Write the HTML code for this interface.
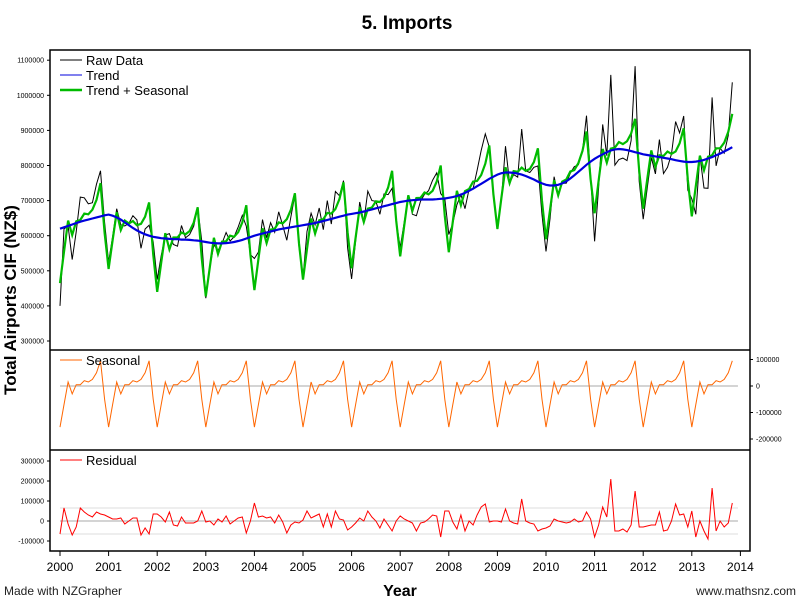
<!DOCTYPE html>
<html><head><meta charset="utf-8"><style>
body{margin:0;background:#fff;}
svg text{font-family:"Liberation Sans",sans-serif;}
</style></head><body>
<svg id="c" width="800" height="600" xmlns="http://www.w3.org/2000/svg">
<rect width="800" height="600" fill="#fff"/>
<text x="407" y="29" font-size="19" font-weight="bold" text-anchor="middle">5. Imports</text>
<text transform="translate(16,300) rotate(-90)" font-size="17" font-weight="bold" text-anchor="middle">Total Airports CIF (NZ$)</text>
<text x="400" y="596" font-size="16" font-weight="bold" text-anchor="middle">Year</text>
<text x="4" y="595" font-size="12" fill="#222">Made with NZGrapher</text>
<text x="796" y="595" font-size="12" fill="#222" text-anchor="end">www.mathsnz.com</text>
<g id="grid"></g>
<g id="marks"></g>
<rect x="50" y="50" width="700" height="501" fill="none" stroke="#000" stroke-width="1.5"/>
<line x1="50" y1="350" x2="750" y2="350" stroke="#000" stroke-width="1.5"/>
<line x1="50" y1="450" x2="750" y2="450" stroke="#000" stroke-width="1.5"/>
<g id="axes"></g>
<g>
<line x1="60" y1="60" x2="82" y2="60" stroke="#000"/><text x="86" y="65" font-size="13">Raw Data</text>
<line x1="60" y1="75" x2="82" y2="75" stroke="#0000dd"/><text x="86" y="80" font-size="13">Trend</text>
<line x1="60" y1="90" x2="82" y2="90" stroke="#00bb00" stroke-width="2.5"/><text x="86" y="95" font-size="13">Trend + Seasonal</text>
</g>
<g>
<line x1="60" y1="360" x2="82" y2="360" stroke="#ff6600"/><text x="86" y="365" font-size="13">Seasonal</text>
</g>
<g>
<line x1="60" y1="460" x2="82" y2="460" stroke="#ff0000"/><text x="86" y="465" font-size="13">Residual</text>
</g>
</svg>
<script>
const years=[2000,2001,2002,2003,2004,2005,2006,2007,2008,2009,2010,2011,2012,2013,2014];
const mainTicks=[300000,400000,500000,600000,700000,800000,900000,1000000,1100000];
const seasTicks=[100000,0,-100000,-200000];
const resTicks=[300000,200000,100000,0,-100000];
const seasonalPattern=[-155,-70,15,-30,5,5,20,15,25,50,95,-50];
const trend=[620,624,628,632,636,640,643,646,649,652,655,658,
660,657,652,646,638,630,622,615,609,604,600,597,
595,593,592,591,590,590,589,589,588,587,586,584,
582,580,579,578,578,579,580,582,585,588,592,596,
600,603,606,609,612,615,618,620,622,624,626,628,
630,632,634,636,639,642,645,648,651,654,657,660,
662,664,666,669,672,675,678,681,684,687,690,693,
696,698,700,701,702,703,703,703,703,704,705,706,
708,710,713,717,722,728,734,741,748,755,762,768,
774,778,780,780,779,777,774,770,765,760,754,749,
745,743,743,745,749,755,763,772,782,792,802,811,
819,826,832,838,843,846,847,846,844,841,838,835,
832,830,828,826,824,822,820,818,815,813,811,810,
810,811,813,816,820,824,829,834,840,846,852];
const residual=[-65,65,-15,-70,-30,65,45,30,20,45,35,30,
20,10,10,15,-15,0,15,15,-70,-35,-65,35,
35,20,-5,45,-20,-25,20,-10,-10,-10,0,50,
-5,0,-20,10,-5,25,-15,0,15,20,-60,0,
90,20,25,15,20,-10,30,-5,-60,-20,-5,-10,
5,50,15,25,35,-30,35,-30,50,10,5,-45,
-30,-10,15,0,50,20,0,-35,10,-20,-50,0,
25,10,0,-10,-50,-10,-5,10,30,25,-80,50,
50,-5,-40,30,-50,0,-20,30,70,85,-5,0,
0,-5,60,0,-10,-15,110,0,-10,-15,-50,-40,
-35,-25,10,0,-5,-10,-5,10,-5,0,45,10,
-80,-20,70,20,210,-50,-50,-40,-55,-20,150,-30,
-30,-25,-20,-20,45,-50,-45,0,85,30,35,-30,
50,-80,0,-50,-90,165,-50,0,-30,-10,90];

const NS='http://www.w3.org/2000/svg';
const xOf=t=>60+(t-2000)*48.6;
const yMain=v=>341-(v-300)*0.351;
const ySeas=v=>386-v*0.265;
const yRes=v=>521-v*0.2;
function mk(tag,attrs,parent){const e=document.createElementNS(NS,tag);for(const k in attrs)e.setAttribute(k,attrs[k]);document.getElementById(parent).appendChild(e);return e;}
const seasonal=trend.map((_,i)=>seasonalPattern[i%12]);
const tplus=trend.map((v,i)=>v+seasonal[i]);
const raw=trend.map((v,i)=>v+seasonal[i]+residual[i]);
const tx=i=>xOf(2000+i/12);
function pts(arr,fy){return arr.map((v,i)=>tx(i).toFixed(1)+','+fy(v).toFixed(1)).join(' ');}

let g=mk('line',{x1:60,x2:xOf(2013.95),y1:ySeas(0),y2:ySeas(0),stroke:'#aaa'},'grid');


[[0,'#aaa','residual-zero-line'],[65,'#ddd','residual-upper-line'],[-65,'#ddd','residual-lower-line']].forEach(r=>{
 const l=mk('line',{x1:60,x2:xOf(2013.95),y1:yRes(r[0]),y2:yRes(r[0]),stroke:r[1]},'grid');
 
 
});

let p=mk('polyline',{points:pts(raw,yMain),fill:'none',stroke:'#000','stroke-width':1},'marks');


p=mk('polyline',{points:pts(tplus,yMain),fill:'none',stroke:'#00bb00','stroke-width':2.2},'marks');


p=mk('polyline',{points:pts(trend,yMain),fill:'none',stroke:'#0000dd','stroke-width':2.2},'marks');


p=mk('polyline',{points:pts(seasonal,ySeas),fill:'none',stroke:'#ff6600','stroke-width':1},'marks');


p=mk('polyline',{points:pts(residual,yRes),fill:'none',stroke:'#ff0000','stroke-width':1},'marks');



years.forEach(y=>{
 const x=xOf(y);
 mk('line',{x1:x,x2:x,y1:551,y2:556,stroke:'#000'},'axes');
 const t=mk('text',{x:x,y:571,'font-size':12,'text-anchor':'middle'},'axes');
 t.textContent=y;
 
 
});
mainTicks.forEach(v=>{
 const y=yMain(v/1000);
 mk('line',{x1:47,x2:50,y1:y,y2:y,stroke:'#000'},'axes');
 const t=mk('text',{x:44,y:y+2.5,'font-size':7,'text-anchor':'end'},'axes');
 t.textContent=v;
 
 
});
seasTicks.forEach(v=>{
 const y=ySeas(v/1000);
 mk('line',{x1:750,x2:753,y1:y,y2:y,stroke:'#000'},'axes');
 const t=mk('text',{x:756,y:y+2.5,'font-size':7},'axes');
 t.textContent=v;
 
 
});
resTicks.forEach(v=>{
 const y=yRes(v/1000);
 mk('line',{x1:47,x2:50,y1:y,y2:y,stroke:'#000'},'axes');
 const t=mk('text',{x:44,y:y+2.5,'font-size':7,'text-anchor':'end'},'axes');
 t.textContent=v;
 
 
});
</script>
</body></html>
